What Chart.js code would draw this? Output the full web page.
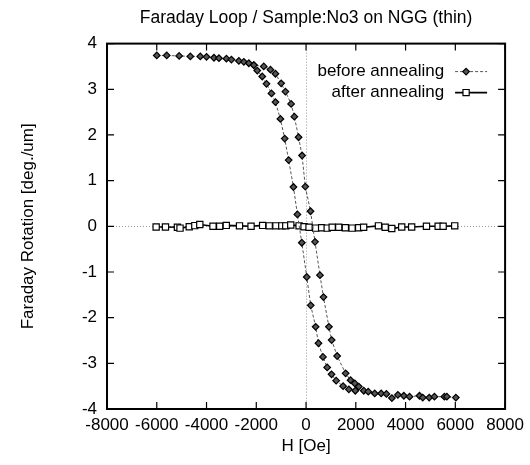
<!DOCTYPE html>
<html>
<head>
<meta charset="utf-8">
<script src="https://cdn.jsdelivr.net/npm/chart.js@4/dist/chart.umd.min.js"></script>
<style>
  html, body { margin: 0; padding: 0; background: #fff; }
</style>
</head>
<body>
<canvas id="chart" width="530" height="465"></canvas>
<script>
// before annealing: field sweep up (-6000 -> +6000)
const fieldUp = [-6000, -5600, -5100, -4650, -4250, -4000, -3700, -3500, -3200, -3000, -2700, -2500, -2300, -2100,
    -1700, -1430, -1230, -1000, -830, -600, -470, -300, -160, -30, 180, 360, 560, 700, 920, 1030, 1250, 1590, 1790,
    1960, 2120, 2320, 2500, 2760, 3020, 3230, 3450, 3690, 3930, 4160, 4560, 4690, 4950, 5160, 5560, 5660, 6020];
const rotUp = [3.74, 3.74, 3.73, 3.72, 3.72, 3.71, 3.69, 3.68, 3.67, 3.65, 3.62, 3.60, 3.57, 3.53,
    3.50, 3.43, 3.34, 3.13, 2.95, 2.68, 2.40, 1.95, 1.55, 0.87, 0.33, -0.34, -1.07, -1.55, -2.20, -2.49, -2.84, -3.22, -3.37,
    -3.44, -3.51, -3.60, -3.62, -3.66, -3.66, -3.67, -3.76, -3.69, -3.71, -3.73, -3.71, -3.75, -3.75, -3.73, -3.73, -3.73, -3.75];

// before annealing: field sweep down (+2000 -> -2100)
const fieldDown = [1980, 1720, 1490, 1210, 1025, 850, 680, 500, 386, 188, 28, -170, -347, -506, -700, -858, -1030,
    -1230, -1390, -1590, -1760, -1960, -2100];
const rotDown = [-3.60, -3.57, -3.50, -3.38, -3.24, -3.09, -2.86, -2.56, -2.20, -1.73, -1.11, -0.36, 0.26, 0.86, 1.45, 1.92, 2.35,
    2.72, 2.91, 3.12, 3.28, 3.41, 3.53];

// after annealing
const fieldAfter = [-6025, -5650, -5170, -5065, -4695, -4470, -4270, -3740, -3470, -3205, -2675, -2210, -1745, -1480,
    -1210, -975, -815, -615, -280, -80, 120, 387, 626, 850, 1050, 1315, 1580, 1850, 2115, 2315, 2910, 3180, 3445,
    3845, 4245, 4840, 5310, 5510, 5975];
const rotAfter = [-0.015, -0.015, -0.02, -0.04, -0.01, 0.015, 0.04, 0, 0, 0.02, 0.01, 0, 0.02, 0.01,
    0.01, 0.01, 0.01, 0.03, 0.01, -0.01, -0.02, -0.04, -0.03, -0.04, -0.02, -0.02, -0.03, -0.04, -0.03, -0.02, 0.01, -0.02, -0.05,
    -0.015, -0.015, 0, 0, 0, 0.01];

const xTicks = [-8000, -6000, -4000, -2000, 0, 2000, 4000, 6000, 8000];
const yTicks = [-4, -3, -2, -1, 0, 1, 2, 3, 4];

const FONT = "'Liberation Sans', Arial, Helvetica, sans-serif";

function toPoints(xs, ys) {
    return xs.map((x, i) => ({ x: x, y: ys[i] }));
}

// up sweep, gap, down sweep
const beforeData = toPoints(fieldUp, rotUp).concat([{ x: 6020, y: null }], toPoints(fieldDown, rotDown));

function drawMarker(ctx, ds, x, y) {
    const r = ds.pointRadius;
    ctx.save();
    ctx.lineWidth = ds.pointBorderWidth;
    ctx.strokeStyle = ds.pointBorderColor;
    ctx.fillStyle = ds.pointBackgroundColor;
    ctx.beginPath();
    if (ds.pointStyle === 'rectRot') {
        ctx.moveTo(x, y - r); ctx.lineTo(x + r, y); ctx.lineTo(x, y + r); ctx.lineTo(x - r, y);
    } else {
        const h = r * Math.SQRT1_2;
        ctx.rect(x - h, y - h, 2 * h, 2 * h);
    }
    ctx.closePath();
    ctx.fill();
    ctx.stroke();
    ctx.restore();
}

// gnuplot style frame: border, inward ticks, dotted zero axes, key
const plotFrame = {
    id: 'plotFrame',
    beforeDatasetsDraw(chart) {
        const { ctx, chartArea: a, scales: { x, y } } = chart;
        const x0 = Math.round(x.getPixelForValue(0)) + 0.5;
        const y0 = Math.round(y.getPixelForValue(0)) + 0.5;
        ctx.save();
        ctx.strokeStyle = '#999';
        ctx.lineWidth = 1;
        ctx.setLineDash([1, 2]);
        ctx.beginPath();
        ctx.moveTo(x0, a.top); ctx.lineTo(x0, a.bottom);
        ctx.moveTo(a.left, y0); ctx.lineTo(a.right, y0);
        ctx.stroke();
        ctx.restore();
    },
    afterDatasetsDraw(chart) {
        const { ctx, chartArea: a, scales: { x, y } } = chart;
        ctx.save();
        ctx.strokeStyle = '#000';
        ctx.lineWidth = 2;
        ctx.strokeRect(a.left, a.top, a.right - a.left, a.bottom - a.top);

        ctx.lineWidth = 1.2;
        ctx.beginPath();
        xTicks.forEach(v => {
            const px = x.getPixelForValue(v);
            ctx.moveTo(px, a.bottom); ctx.lineTo(px, a.bottom - 7);
            ctx.moveTo(px, a.top); ctx.lineTo(px, a.top + 7);
        });
        yTicks.forEach(v => {
            const py = y.getPixelForValue(v);
            ctx.moveTo(a.left, py); ctx.lineTo(a.left + 7, py);
            ctx.moveTo(a.right, py); ctx.lineTo(a.right - 7, py);
        });
        ctx.stroke();

        // key
        ctx.font = '17px ' + FONT;
        ctx.fillStyle = '#000';
        ctx.textAlign = 'right';
        ctx.textBaseline = 'middle';
        chart.data.datasets.forEach((ds, i) => {
            const ly = a.top + 28 + i * 21;
            ctx.fillText(ds.label, a.right - 61, ly);
            ctx.save();
            ctx.strokeStyle = ds.borderColor;
            ctx.lineWidth = ds.borderWidth;
            ctx.setLineDash(ds.borderDash || []);
            ctx.beginPath();
            ctx.moveTo(a.right - 50, ly); ctx.lineTo(a.right - 18, ly);
            ctx.stroke();
            ctx.restore();
            drawMarker(ctx, ds, a.right - 39, ly);
        });
        ctx.restore();
    }
};

new Chart(document.getElementById('chart'), {
    type: 'line',
    data: {
        datasets: [
            {
                label: 'before annealing',
                data: beforeData,
                borderColor: '#555',
                borderWidth: 1,
                borderDash: [3, 2],
                pointStyle: 'rectRot',
                pointRadius: 3.3,
                pointBorderWidth: 1.2,
                pointBorderColor: '#000',
                pointBackgroundColor: '#555',
                spanGaps: false,
                tension: 0
            },
            {
                label: 'after annealing',
                data: toPoints(fieldAfter, rotAfter),
                borderColor: '#000',
                borderWidth: 1.6,
                pointStyle: 'rect',
                pointRadius: 4.4,
                pointBorderWidth: 1.2,
                pointBorderColor: '#000',
                pointBackgroundColor: '#fff',
                tension: 0
            }
        ]
    },
    options: {
        responsive: false,
        animation: false,
        devicePixelRatio: 1,
        layout: { padding: { left: 0, right: 22, top: 0, bottom: 0 } },
        plugins: {
            legend: { display: false },
            tooltip: { enabled: false },
            title: {
                display: true,
                text: 'Faraday Loop / Sample:No3 on NGG (thin)',
                color: '#000',
                fullSize: false,
                font: { family: FONT, size: 17.5, weight: 'normal' },
                padding: { top: 8, bottom: 14.6 }
            }
        },
        scales: {
            x: {
                type: 'linear',
                min: -8000,
                max: 8000,
                afterBuildTicks: s => { s.ticks = xTicks.map(v => ({ value: v })); },
                afterFit: s => { s.height = 56; },
                grid: { display: false, drawTicks: false },
                border: { display: false },
                ticks: {
                    color: '#000',
                    padding: 6,
                    maxRotation: 0,
                    autoSkip: false,
                    font: { family: FONT, size: 17 },
                    callback: v => String(v)
                },
                title: {
                    display: true,
                    text: 'H [Oe]',
                    color: '#000',
                    font: { family: FONT, size: 17 },
                    padding: { top: 0, bottom: 8 }
                }
            },
            y: {
                type: 'linear',
                min: -4,
                max: 4,
                afterBuildTicks: s => { s.ticks = yTicks.map(v => ({ value: v })); },
                afterFit: s => { s.width = 107; },
                grid: { display: false, drawTicks: false },
                border: { display: false },
                ticks: {
                    color: '#000',
                    padding: 10,
                    font: { family: FONT, size: 17 },
                    callback: v => String(v)
                },
                title: {
                    display: true,
                    text: 'Faraday Rotation [deg./um]',
                    color: '#000',
                    font: { family: FONT, size: 17 },
                    padding: { top: 18, bottom: 0 }
                }
            }
        }
    },
    plugins: [plotFrame]
});
</script>
</body>
</html>
